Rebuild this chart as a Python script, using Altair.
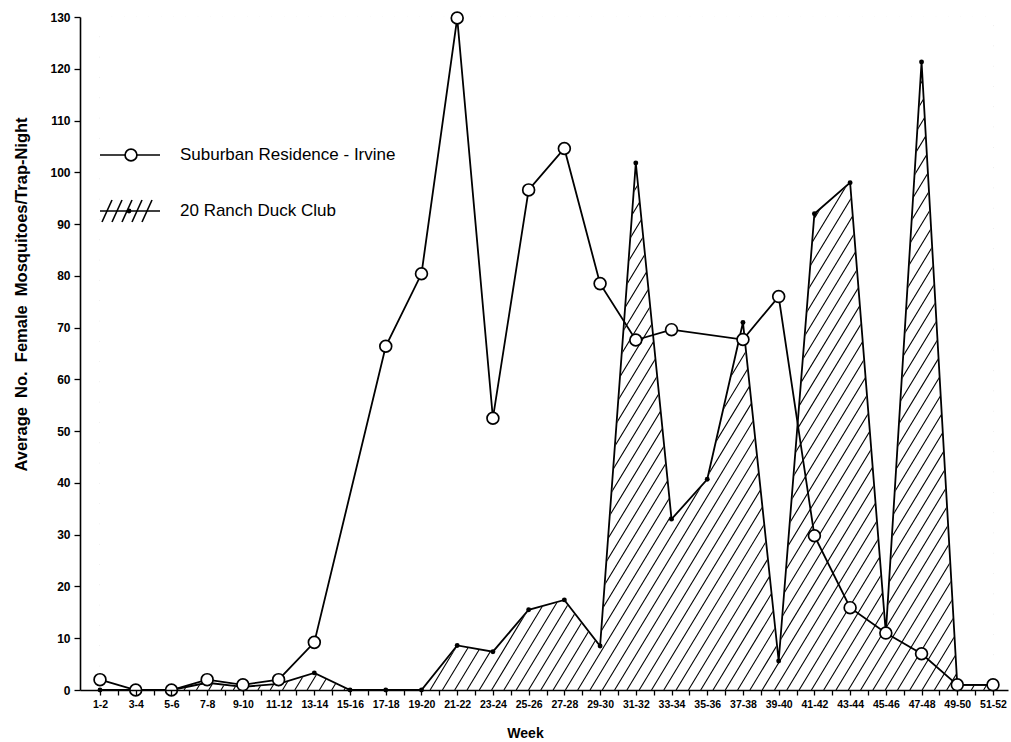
import altair as alt
import numpy as np
import pandas as pd

# Two-week periods on the x axis
weeks = ["1-2", "3-4", "5-6", "7-8", "9-10", "11-12", "13-14", "15-16", "17-18",
         "19-20", "21-22", "23-24", "25-26", "27-28", "29-30", "31-32", "33-34",
         "35-36", "37-38", "39-40", "41-42", "43-44", "45-46", "47-48", "49-50", "51-52"]

# Average number of female mosquitoes per trap-night (None = no trapping that period)
irvine = [2, 0, 0, 2, 1, 2, 9.2, None, 66.4, 80.4, 129.8, 52.5, 96.6, 104.6, 78.5,
          67.6, 69.6, None, 67.7, 76, 29.8, 15.9, 11, 7, 1, 1]
duck = [0, 0, 0, 1.4, 0.6, 1.2, 3.3, 0, 0, 0, 8.6, 7.4, 15.5, 17.4, 8.5,
        101.8, 33, 40.7, 71, 5.6, 92, 98, 11, 121.3, 1, 1]

Y_MAX = 130
X_MIN, X_MAX = -0.56, 25.42
W, H = 928, 673
FONT = "Liberation Sans"

n = len(weeks)
df = pd.DataFrame({"i": list(range(n)), "week": weeks, "irvine": irvine,
                   "duck": duck, "top": [Y_MAX] * n})
irv = df.dropna(subset=["irvine"])

xs = alt.Scale(domain=[X_MIN, X_MAX], nice=False, zero=False)
ys = alt.Scale(domain=[0, Y_MAX], nice=False, zero=True)

label_js = "[" + ",".join(f"'{w}'" for w in weeks) + "]"
x_axis = alt.Axis(
    values=[k / 2 for k in range(0, 2 * (n - 1) + 1)],
    labelExpr=f"datum.value % 1 == 0 ? {label_js}[datum.value] : ''",
    labelOverlap=False, labelFont=FONT, labelFontSize=10.5, labelFontWeight="bold",
    labelColor="black", labelPadding=4, tickSize=5, tickColor="black", tickWidth=1.3,
    domainColor="black", domainWidth=1.6, grid=False, zindex=1,
    title="Week", titleFont=FONT, titleFontSize=14, titleFontWeight="bold",
    titleColor="black", titleX=445, titleY=43, titleBaseline="middle",
)
y_axis = alt.Axis(
    values=list(range(0, Y_MAX + 1, 10)), labelFont=FONT, labelFontSize=12,
    labelFontWeight="bold", labelColor="black", labelPadding=4, tickSize=6,
    tickColor="black", tickWidth=1.3, domainColor="black", domainWidth=1.6,
    grid=False, zindex=1,
    title="Average\u00a0 No.\u00a0 Female\u00a0 Mosquitoes/Trap-Night", titleFont=FONT,
    titleFontSize=16.5, titleFontWeight="bold", titleColor="black",
    titleX=-59, titleY=277, titleAlign="center", titleBaseline="middle",
)


def xq(field):
    return alt.X(field, type="quantitative", scale=xs, axis=x_axis)


def yq(field):
    return alt.Y(field, type="quantitative", scale=ys, axis=y_axis)


# Diagonal hatch strokes across the plot; the part above the Duck Club curve is masked
px_per_x = W / (X_MAX - X_MIN)
shift = H / 1.65 / px_per_x         # x-shift of one stroke over the full height
step = 12.3 / px_per_x              # horizontal spacing between strokes
rows = []
for x0 in np.arange(-shift, n - 1, step):
    t0 = max(0.0, -x0 / shift)
    t1 = min(1.0, (n - 1 - x0) / shift)
    if t1 > t0:
        rows.append({"xa": x0 + shift * t0, "ya": Y_MAX * t0,
                     "xb": x0 + shift * t1, "yb": Y_MAX * t1})
hatch_df = pd.DataFrame(rows)

hatch = alt.Chart(hatch_df).mark_rule(color="black", strokeWidth=1.1).encode(
    x=xq("xa"), x2="xb:Q", y=yq("ya"), y2="yb:Q",
)

mask = alt.Chart(df).mark_area(
    color="white", opacity=1, interpolate="linear", stroke="white", strokeWidth=1.5,
).encode(x=xq("i"), y=yq("duck"), y2="top:Q")

duck_line = alt.Chart(df).mark_line(color="black", strokeWidth=1.8).encode(
    x=xq("i"), y=yq("duck"),
)
duck_pts = alt.Chart(df).mark_point(filled=True, color="black", size=24, opacity=1).encode(
    x=xq("i"), y=yq("duck"),
)

irv_line = alt.Chart(irv).mark_line(color="black", strokeWidth=1.8).encode(
    x=xq("i"), y=yq("irvine"),
)
irv_pts = alt.Chart(irv).mark_point(
    shape="circle", filled=False, fill="white", fillOpacity=1, stroke="black",
    strokeWidth=1.7, size=140, opacity=1, clip=False,
).encode(x=xq("i"), y=yq("irvine"))

# Legend drawn in pixel space inside the plot
leg_lines = pd.DataFrame({
    "x": [20, 20, 22, 32, 42, 52, 62],
    "x2": [80, 80, 32, 42, 52, 62, 72],
    "y": [138, 194, 205, 205, 205, 205, 205],
    "y2": [138, 194, 183, 183, 183, 183, 183],
})
px = dict(scale=None, axis=None)
legend_rules = alt.Chart(leg_lines).mark_rule(color="black", strokeWidth=1.6).encode(
    x=alt.X("x:Q", **px), x2="x2:Q", y=alt.Y("y:Q", **px), y2="y2:Q",
)
legend_circle = alt.Chart(pd.DataFrame({"x": [51], "y": [138]})).mark_point(
    shape="circle", filled=False, fill="white", fillOpacity=1, stroke="black",
    strokeWidth=1.7, size=140, opacity=1,
).encode(x=alt.X("x:Q", **px), y=alt.Y("y:Q", **px))
legend_dot = alt.Chart(pd.DataFrame({"x": [49], "y": [194]})).mark_point(
    filled=True, color="black", size=24, opacity=1,
).encode(x=alt.X("x:Q", **px), y=alt.Y("y:Q", **px))
legend_text = alt.Chart(pd.DataFrame({
    "x": [100, 100], "y": [138, 194],
    "label": ["Suburban Residence - Irvine", "20 Ranch Duck Club"],
})).mark_text(align="left", baseline="middle", font=FONT, fontSize=17,
              color="black").encode(
    x=alt.X("x:Q", **px), y=alt.Y("y:Q", **px), text="label:N",
)

chart = alt.layer(
    hatch, mask, duck_line, duck_pts, irv_line, irv_pts,
    legend_rules, legend_circle, legend_dot, legend_text,
).properties(
    width=W, height=H, background="white",
    padding={"left": 80, "top": 17, "right": 3, "bottom": 52},
    autosize=alt.AutoSizeParams(type="none"),
).configure_view(stroke=None)

chart.save("out.html", embed_options={"renderer": "svg", "actions": False})
